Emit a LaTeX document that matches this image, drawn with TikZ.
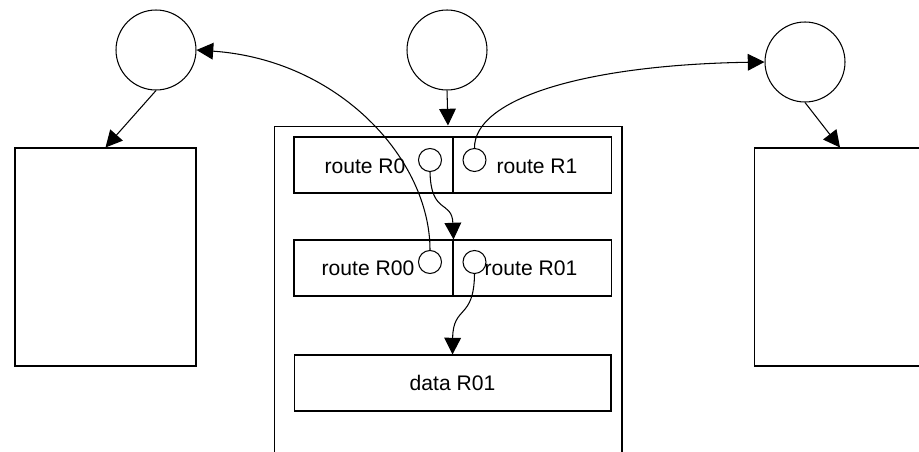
\documentclass[tikz,border=0pt]{standalone}
\usepackage{fontspec}
\setmainfont{Liberation Sans}
\usepackage{tikz}
\usetikzlibrary{positioning, calc, arrows.meta}

\begin{document}
\begin{tikzpicture}[
    x=0.02cm, y=-0.02cm,
    >={Triangle[length=9.5pt, width=9.5pt]},
    line width=0.6pt,
    every node/.style={font=\fontsize{12}{14}\selectfont, inner sep=0pt},
    peer/.style={draw, circle, minimum size=1.6cm},
    port/.style={draw, circle, minimum size=0.46cm},
    store/.style={draw, rectangle, minimum width=3.62cm, minimum height=4.36cm},
    rt/.style={draw, rectangle, minimum width=3.18cm, minimum height=1.12cm}
]
\useasboundingbox (0,0) rectangle (919,452);
\clip (0,0) rectangle (919,452);

% 定义节点
\node[peer] (cl) at (156,50) {};
\node[peer] (cm) at (447,50) {};
\node[peer] (cr) at (805,62) {};

\node[store] (lbox) at (105.5,257) {};
\node[store, minimum width=3.44cm] (rbox) at (840,257) {};

\node[draw, rectangle, minimum width=6.96cm, minimum height=7.08cm] (outer) at (448,303) {};

\node[rt] (r0)  at (373.5,165) {};
\node[rt] (r1)  at (532,165) {};
\node[rt] (r00) at (373.5,268) {};
\node[rt] (r01) at (532,268) {};
\node[rt, minimum width=6.34cm] (data) at (452.5,383) {data R01};

\node (t0)  at (365,166) {route R0};
\node (t1)  at (537,166) {route R1};
\node (t00) at (368,268) {route R00};
\node (t01) at (531,268) {route R01};

\node[port] (p0)  at (430,160) {};
\node[port] (p1)  at (474.5,160) {};
\node[port] (p00) at (430,262) {};
\node[port] (p01) at (474.5,262) {};

% 定义连线
\path[->]
    (cl.south) edge (lbox.north)
    (cm.south) edge (outer.north)
    (cr.south) edge (rbox.north);

\draw[->] (p1.north) .. controls (474,100) and (580,65) .. (cr.west);
\draw[->] (p00.north) .. controls (430,160) and (340,60) .. (cl.east);
\draw[->] (p0.south) .. controls (431,215) and (452,200) .. (r00.north east);
\draw[->] (p01.south) .. controls (474,320) and (453,305) .. (data.north);

\end{tikzpicture}
\end{document}
